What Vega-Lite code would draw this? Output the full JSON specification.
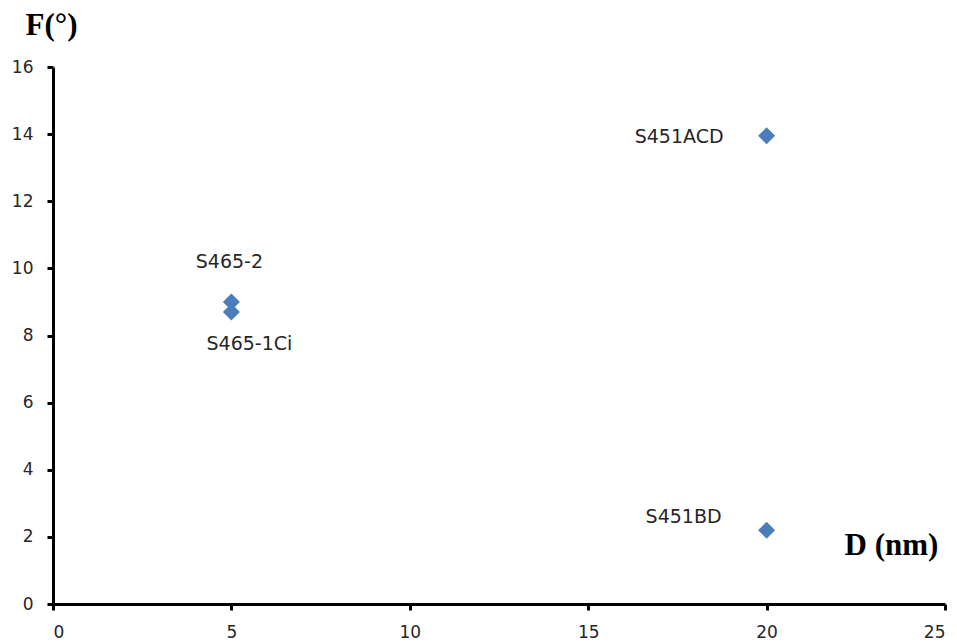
{
  "$schema": "https://vega.github.io/schema/vega-lite/v6.json",
  "width": 892,
  "height": 537,
  "autosize": "none",
  "padding": {"left": 53, "top": 67, "right": 12, "bottom": 39},
  "background": "white",
  "config": {"view": {"stroke": null}},
  "data": {
    "values": [
      {"sample": "S451ACD", "D": 20, "F": 13.95},
      {"sample": "S451BD", "D": 20, "F": 2.2},
      {"sample": "S465-2", "D": 5, "F": 9.0},
      {"sample": "S465-1Ci", "D": 5, "F": 8.7}
    ]
  },
  "encoding": {
    "x": {
      "field": "D", "type": "quantitative",
      "scale": {"domain": [0, 25], "nice": false},
      "axis": {
        "values": [0, 5, 10, 15, 20, 25],
        "grid": false,
        "domainColor": "black", "domainWidth": 3,
        "tickColor": "black", "tickWidth": 3, "tickSize": 6,
        "labelFont": "DejaVu Sans", "labelFontSize": 17, "labelColor": "#262626",
        "labelPadding": 14,
        "title": "D (nm)",
        "titleFont": "Liberation Serif", "titleFontSize": 31, "titleFontWeight": "bold",
        "titleColor": "black",
        "titleX": 838, "titleY": -59, "titleAlign": "center", "titleBaseline": "middle"
      }
    },
    "y": {
      "field": "F", "type": "quantitative",
      "scale": {"domain": [0, 16], "nice": false},
      "axis": {
        "values": [0, 2, 4, 6, 8, 10, 12, 14, 16],
        "grid": false,
        "domainColor": "black", "domainWidth": 3,
        "tickColor": "black", "tickWidth": 3, "tickSize": 6,
        "labelFont": "DejaVu Sans", "labelFontSize": 17, "labelColor": "#262626",
        "labelPadding": 14,
        "title": "F(°)",
        "titleFont": "Liberation Serif", "titleFontSize": 31, "titleFontWeight": "bold",
        "titleColor": "black", "titleAngle": 0,
        "titleX": -2, "titleY": -42, "titleAlign": "center", "titleBaseline": "middle"
      }
    }
  },
  "layer": [
    {
      "mark": {"type": "point", "shape": "diamond", "filled": true, "size": 289, "color": "#4A7EBB", "opacity": 1}
    },
    {
      "transform": [{"filter": "datum.sample === 'S451ACD'"}],
      "mark": {"type": "text", "align": "right", "baseline": "middle", "dx": -43, "dy": 1, "font": "DejaVu Sans", "fontSize": 19, "color": "#262626"},
      "encoding": {"text": {"field": "sample"}}
    },
    {
      "transform": [{"filter": "datum.sample === 'S451BD'"}],
      "mark": {"type": "text", "align": "right", "baseline": "middle", "dx": -45, "dy": -13, "font": "DejaVu Sans", "fontSize": 19, "color": "#262626"},
      "encoding": {"text": {"field": "sample"}}
    },
    {
      "transform": [{"filter": "datum.sample === 'S465-2'"}],
      "mark": {"type": "text", "align": "center", "baseline": "middle", "dx": -2, "dy": -40, "font": "DejaVu Sans", "fontSize": 19, "color": "#262626"},
      "encoding": {"text": {"field": "sample"}}
    },
    {
      "transform": [{"filter": "datum.sample === 'S465-1Ci'"}],
      "mark": {"type": "text", "align": "center", "baseline": "middle", "dx": 18, "dy": 32, "font": "DejaVu Sans", "fontSize": 19, "color": "#262626"},
      "encoding": {"text": {"field": "sample"}}
    }
  ]
}
